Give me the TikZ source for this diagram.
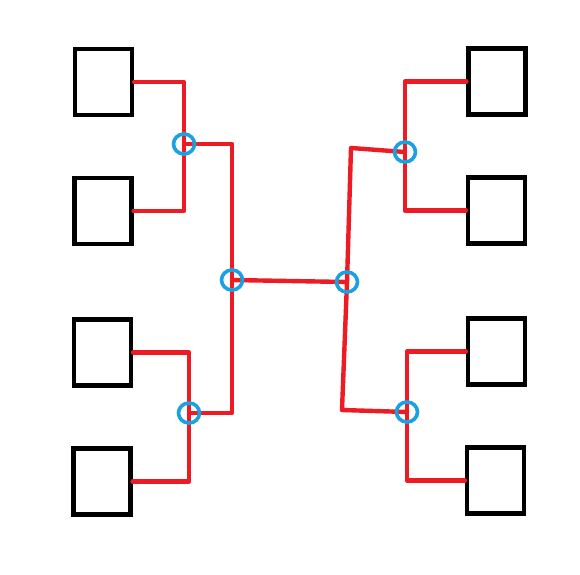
\documentclass[tikz,border=0pt]{standalone}
\usepackage{tikz}
\usepackage{xcolor}
\usetikzlibrary{positioning, shapes.geometric}
\definecolor{wireRed} {HTML}{ED1C24}
\definecolor{ringBlue}{HTML}{1BA1E2}

\begin{document}
\begin{tikzpicture}[x=1pt, y=-1pt,
    unitbox/.style={draw=black, line width=4.2pt, minimum width=57pt,
      minimum height=66pt, inner sep=0pt},
    wire/.style={draw=wireRed, line width=4.4pt, line join=round, line cap=round},
    ring/.style={ellipse, draw=ringBlue, line width=3.6pt, minimum width=21pt,
      minimum height=20pt, inner sep=0pt},
  ]
  \useasboundingbox (0,0) rectangle (580,574);
  % junction points of the two trees
  \coordinate (jA) at (184,144);
  \coordinate (jB) at (189,413);
  \coordinate (jC) at (232,280);
  \coordinate (jD) at (347,282);
  \coordinate (jE) at (405,152);
  \coordinate (jF) at (407,412);
  % hand-drawn bends on the right trunk
  \coordinate (kE) at (351,148);
  \coordinate (kF) at (342,410);

  % leaf boxes, left column then right column
  \foreach \n/\x/\y in
    {L1/103.5/82, L2/103/211, L3/102.5/352.5, L4/102/481.5,
     R1/497/81.5, R2/496.5/210.5, R3/496.5/351.5, R4/495.5/480.5}{
    \node[unitbox] (\n) at (\x,\y) {};
  }

  % left tree
  \draw[wire] (L1.east) -| (jA) |- (L2.east);
  \draw[wire] (L3.east) -| (jB) |- (L4.east);
  \draw[wire] (jA) -| (jC);
  \draw[wire] (jB) -| (jC);
  % bridge
  \draw[wire] (jC) -- (jD);
  % right tree
  \draw[wire] (R1.west) -| (jE) |- (R2.west);
  \draw[wire] (R3.west) -| (jF) |- (R4.west);
  \draw[wire] (jE) -- (kE) -- (jD);
  \draw[wire] (jD) -- (kF) -- (jF);

  % rings on every junction
  \foreach \j in {A,B,C,D,E,F}{
    \node[ring] (ring\j) at (j\j) {};
  }
\end{tikzpicture}
\end{document}
